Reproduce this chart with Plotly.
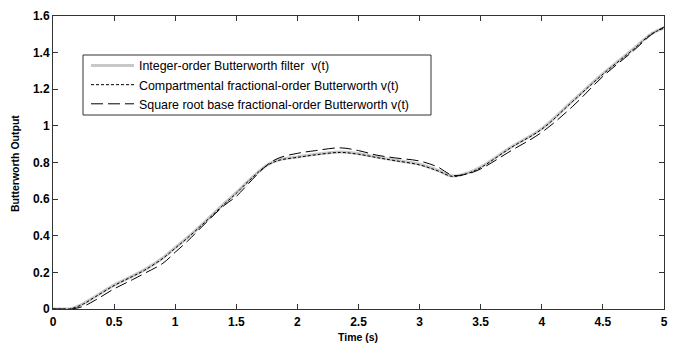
import plotly.graph_objects as go

t = [0, 0.1, 0.15, 0.25, 0.35, 0.5, 0.65, 0.75, 0.9, 1.0, 1.1, 1.25, 1.4, 1.5, 1.6, 1.75, 1.85, 2.0, 2.15, 2.35, 2.5, 2.65, 2.8, 3.0, 3.15, 3.27, 3.4, 3.5, 3.75, 4.0, 4.25, 4.5, 4.75, 4.9, 5.0]
v_integer = [0, 0, 0.002, 0.03, 0.07, 0.13, 0.18, 0.215, 0.28, 0.335, 0.39, 0.48, 0.575, 0.635, 0.70, 0.785, 0.815, 0.83, 0.845, 0.858, 0.848, 0.83, 0.812, 0.79, 0.757, 0.726, 0.745, 0.775, 0.885, 0.985, 1.135, 1.285, 1.42, 1.505, 1.535]
v_compartmental = [0, 0, 0.002, 0.028, 0.068, 0.128, 0.178, 0.212, 0.277, 0.332, 0.388, 0.478, 0.572, 0.632, 0.698, 0.783, 0.812, 0.828, 0.842, 0.855, 0.845, 0.827, 0.81, 0.787, 0.754, 0.724, 0.742, 0.772, 0.882, 0.982, 1.132, 1.282, 1.418, 1.503, 1.533]
v_sqrt = [0, 0, 0.0, 0.015, 0.05, 0.11, 0.16, 0.195, 0.25, 0.31, 0.37, 0.47, 0.565, 0.615, 0.685, 0.785, 0.825, 0.85, 0.865, 0.88, 0.865, 0.84, 0.825, 0.808, 0.775, 0.73, 0.74, 0.765, 0.865, 0.965, 1.105, 1.27, 1.41, 1.50, 1.54]

x_ticks = [0, 0.5, 1, 1.5, 2, 2.5, 3, 3.5, 4, 4.5, 5]
x_tick_labels = ["0", "0.5", "1", "1.5", "2", "2.5", "3", "3.5", "4", "4.5", "5"]
y_ticks = [0, 0.2, 0.4, 0.6, 0.8, 1, 1.2, 1.4, 1.6]
y_tick_labels = ["0", "0.2", "0.4", "0.6", "0.8", "1", "1.2", "1.4", "1.6"]

names = ["Integer-order Butterworth filter  v(t)",
         "Compartmental fractional-order Butterworth v(t)",
         "Square root base fractional-order Butterworth v(t)"]

fig = go.Figure()
fig.add_trace(go.Scatter(x=t, y=v_integer, name=names[0], mode="lines", line_shape="spline",
                         line=dict(color="#c8c8c8", width=3)))
fig.add_trace(go.Scatter(x=t, y=v_compartmental, name=names[1], mode="lines", line_shape="spline",
                         line=dict(color="black", width=1, dash="3px,2px")))
fig.add_trace(go.Scatter(x=t, y=v_sqrt, name=names[2], mode="lines", line_shape="spline",
                         line=dict(color="black", width=1, dash="12px,5px")))

axis_common = dict(showgrid=False, zeroline=False, showline=True, linecolor="#333333", linewidth=1,
                   mirror="ticks", ticks="inside", ticklen=5, tickcolor="#333333", automargin=False,
                   tickfont=dict(family="Liberation Sans", size=12, color="black", weight="bold"))

W, H = 678, 347
ML, MR, MT, MB = 53, 14, 16, 38
PW, PH = W - ML - MR, H - MT - MB

def px_x(p):
    return (p - ML) / PW

def px_y(p):
    return (H - MB - p) / PH

fig.update_layout(
    width=W, height=H,
    margin=dict(l=ML, r=MR, t=MT, b=MB),
    paper_bgcolor="white", plot_bgcolor="white",
    font=dict(family="Liberation Sans", color="black"),
    xaxis=dict(range=[0, 5], tickvals=x_ticks, ticktext=x_tick_labels, ticklabelstandoff=2, **axis_common),
    yaxis=dict(range=[0, 1.6], tickvals=y_ticks, ticktext=y_tick_labels, **axis_common),
    legend=dict(x=px_x(86), y=px_y(51), xanchor="left", yanchor="top",
                bgcolor="rgba(0,0,0,0)", borderwidth=0,
                font=dict(family="Liberation Sans", size=12.4, color="black"),
                tracegroupgap=0, itemwidth=43),
    showlegend=True,
    shapes=[dict(type="rect", xref="paper", yref="paper",
                 x0=px_x(83), x1=px_x(431), y0=px_y(115), y1=px_y(55),
                 line=dict(color="#333333", width=1), fillcolor="white", layer="above")],
    annotations=[
        dict(text="<b>Time (s)</b>", xref="paper", yref="paper", x=px_x(358), y=px_y(337),
             xanchor="center", yanchor="middle", showarrow=False,
             font=dict(family="Liberation Sans", size=10.5, color="black")),
        dict(text="<b>Butterworth Output</b>", xref="paper", yref="paper", x=px_x(15), y=px_y(164),
             xanchor="center", yanchor="middle", showarrow=False, textangle=-90,
             font=dict(family="Liberation Sans", size=10.5, color="black")),
    ],
)

fig.write_html("out.html")
